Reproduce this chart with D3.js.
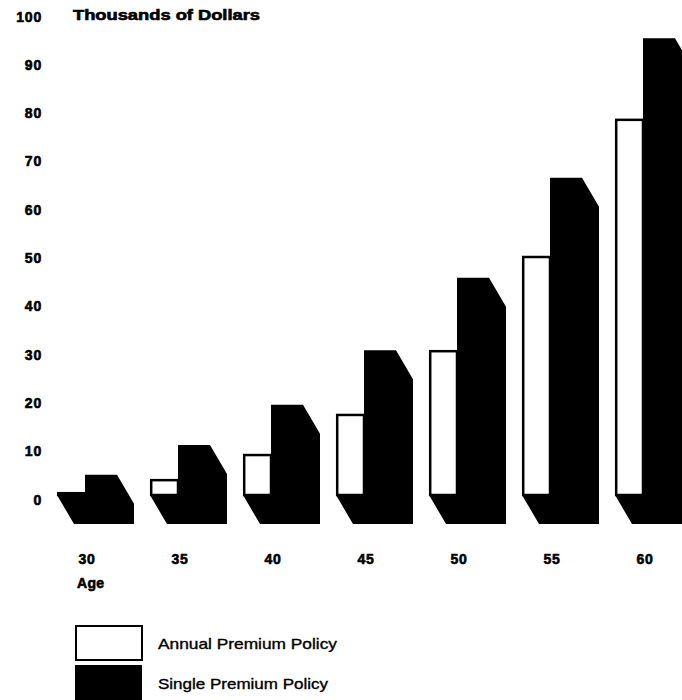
<!DOCTYPE html>
<html>
<head>
<meta charset="utf-8">
<script src="https://cdn.jsdelivr.net/npm/d3@7/dist/d3.min.js"></script>
<style>
  html, body { margin: 0; padding: 0; background: #fff; }
  svg { display: block; }
  text { font-family: "Liberation Sans", Arial, Helvetica, sans-serif; fill: #000; }
  .heavy { stroke: #000; stroke-width: 0.6px; }
  .medium { stroke: #000; stroke-width: 0.35px; }
</style>
</head>
<body>
<svg id="chart" width="682" height="700"></svg>
<script>
// Cash value by age, in thousands of dollars
const ages = ["30", "35", "40", "45", "50", "55", "60"];
const annualPremium = [1.2, 3.9, 9.1, 17.4, 30.6, 50.1, 78.5];
const singlePremium = [5.0, 11.2, 19.5, 30.8, 45.8, 66.5, 95.4];
const yTicks = [0, 10, 20, 30, 40, 50, 60, 70, 80, 90, 100];
const seriesNames = ["Annual Premium Policy", "Single Premium Policy"];

const svg = d3.select("#chart");

const y = d3.scaleLinear().domain([0, 100]).range([499, 16]);
const x = d3.scaleBand().domain(ages).range([57, 708]).paddingInner(0).paddingOuter(0);

const whiteW = 28, blackW = 32;   // front face widths
const depthX = 17, depthY = 29;   // extrusion offset of the block
const base = y(0) - 4;            // front face sits slightly above the zero line

// bars
const groups = svg.append("g").selectAll("g")
  .data(ages.map((a, i) => ({ age: a, annual: annualPremium[i], single: singlePremium[i] })))
  .join("g");

groups.each(function(d) {
  const g = d3.select(this);
  const x0 = x(d.age), xm = x0 + whiteW, x1 = xm + blackW;
  const yA = y(d.annual), yS = y(d.single);
  // single premium front plus the extruded sides, as one solid shape
  g.append("polygon")
    .attr("points", [
      [x0, base], [x0 + depthX, base + depthY], [x1 + depthX, base + depthY],
      [x1 + depthX, yS + depthY], [x1, yS], [xm, yS], [xm, base]
    ].join(" "))
    .attr("fill", "#000");
  // annual premium front
  g.append("rect")
    .attr("x", x0 + 1.2).attr("y", yA).attr("width", whiteW - 1.2).attr("height", Math.max(0, base - yA))
    .attr("fill", "#fff").attr("stroke", "#000").attr("stroke-width", 2.5);
});

// y axis labels
const yAxis = d3.axisLeft(y).tickValues(yTicks).tickSize(0).tickPadding(0);
const yg = svg.append("g").attr("transform", "translate(42,0)").call(yAxis);
yg.select(".domain").remove();
yg.selectAll("text")
  .attr("class", "heavy")
  .attr("font-family", "Liberation Sans, Arial, sans-serif")
  .attr("font-size", 14).attr("font-weight", "bold")
  .attr("dy", "0.36em")
  .attr("letter-spacing", "0.8px");

svg.append("text")
  .attr("class", "heavy")
  .attr("x", 73).attr("y", 20)
  .attr("font-size", 14).attr("font-weight", "bold")
  .attr("textLength", 187).attr("lengthAdjust", "spacingAndGlyphs")
  .text("Thousands of Dollars");

// x axis labels, centred under the seam between the two bars
const xAxis = d3.axisBottom(x).tickSize(0).tickPadding(0);
const xg = svg.append("g").attr("transform", "translate(0,551)").call(xAxis);
xg.select(".domain").remove();
xg.selectAll(".tick").attr("transform", d => `translate(${x(d) + whiteW + 2},0)`);
xg.selectAll("text")
  .attr("class", "heavy")
  .attr("font-family", "Liberation Sans, Arial, sans-serif")
  .attr("font-size", 14).attr("font-weight", "bold")
  .attr("dy", "0.95em")
  .attr("letter-spacing", "0.8px");

svg.append("text")
  .attr("class", "heavy")
  .attr("x", 77).attr("y", 588)
  .attr("font-size", 14).attr("font-weight", "bold")
  .attr("letter-spacing", "0.3px")
  .text("Age");

// legend
const legend = svg.append("g").attr("transform", "translate(75,625)");
seriesNames.forEach((name, i) => {
  const row = legend.append("g").attr("transform", `translate(0,${i * 40})`);
  row.append("rect")
    .attr("x", i === 0 ? 1 : 0).attr("y", i === 0 ? 1 : 0)
    .attr("width", i === 0 ? 66 : 67).attr("height", i === 0 ? 34 : 36)
    .attr("fill", i === 0 ? "#fff" : "#000")
    .attr("stroke", i === 0 ? "#000" : "none").attr("stroke-width", 2);
  row.append("text")
    .attr("class", "medium")
    .attr("x", 83).attr("y", 24)
    .attr("font-size", 14.5)
    .attr("textLength", i === 0 ? 179 : 170).attr("lengthAdjust", "spacingAndGlyphs")
    .text(name);
});
</script>
</body>
</html>
